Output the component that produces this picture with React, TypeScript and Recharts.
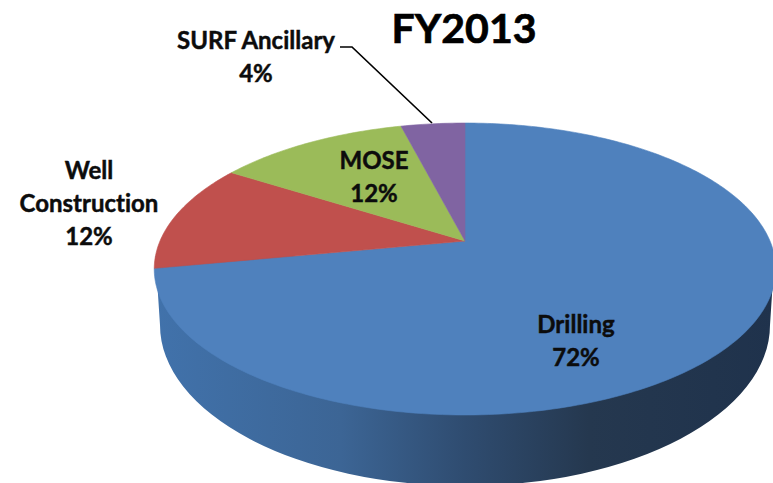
import React from "react";
import { PieChart, Pie, Cell } from "recharts";

const categories = ["Drilling", "Well Construction", "MOSE", "SURF Ancillary"];
const shares = [72, 12, 12, 4];
const colors = ["#4f81bd", "#c0504d", "#9bbb59", "#8064a2"];
const title = "FY2013";

const rows = categories.map((name, i) => ({ name, value: shares[i] }));

// Perspective of the tilted disc
const TILT = -0.1918;
const SQUASH = 0.461;
const WIDTH = 773;
const HEIGHT = 483;

const RAD = Math.PI / 180;
function project(cx: number, cy: number, R: number, deg: number) {
  const u = Math.cos(deg * RAD);
  const v = -Math.sin(deg * RAD);
  const d = 1 + TILT * v;
  return [cx + (R * u) / d, cy + (R * SQUASH * v) / d];
}

function Slice3D(props: any) {
  const { cx, cy, outerRadius: R, startAngle, endAngle, fill, index } = props;
  const steps = Math.max(2, Math.ceil(Math.abs(endAngle - startAngle)));
  const pts: string[] = [];
  for (let i = 0; i <= steps; i++) {
    const a = startAngle + ((endAngle - startAngle) * i) / steps;
    const [x, y] = project(cx, cy, R, a);
    pts.push(`${x.toFixed(2)},${y.toFixed(2)}`);
  }
  const top = `M${cx},${cy}L${pts.join("L")}Z`;
  let wall = null;
  if (props.name === categories[0]) {
    // side wall: visible lower half of the disc rim, lowered and slightly narrowed
    const [lx, ly] = project(cx, cy, R, 180 + 6);
    const [rx, ry] = project(cx, cy, R, 0 - 6);
    const bx = R * 1.0;
    const by = R * 0.528;
    const bcy = cy + R * 0.275;
    wall = (
      <path
        d={`M${lx},${ly}L${cx - bx},${bcy}A${bx},${by} 0 0 0 ${cx + bx},${bcy}L${rx},${ry}Z`}
        fill="url(#wallShade)"
      />
    );
  }
  return (
    <g data-index={index}>
      {wall}
      <path d={top} fill={fill} stroke={fill} strokeWidth={0.6} />
    </g>
  );
}

const labelStyle: any = {
  fontFamily: "Lato, 'Open Sans', sans-serif",
  fontWeight: 700,
  fontSize: 24,
  fill: "#0c0c0c",
  stroke: "#0c0c0c",
  strokeWidth: 0.45,
  fontVariantLigatures: "none",
};

const labelLayout: Record<string, { x: number; lines: [string, number][] }> = {
  Drilling: { x: 576, lines: [["Drilling", 333], ["72%", 366]] },
  "Well Construction": { x: 89, lines: [["Well", 179], ["Construction", 212], ["12%", 245]] },
  MOSE: { x: 374, lines: [["MOSE", 169], ["12%", 202]] },
  "SURF Ancillary": { x: 256, lines: [["SURF Ancillary", 49], ["4%", 82]] },
};

function renderLabel(props: any) {
  const layout = labelLayout[props.name];
  if (!layout) return null;
  return (
    <g>
      {layout.lines.map(([t, y]) => (
        <text key={t} x={layout.x} y={y} textAnchor="middle" style={labelStyle}>
          {t}
        </text>
      ))}
      {props.name === "SURF Ancillary" && (
        <polyline points="340,47 352,47 432,123" fill="none" stroke="#000" strokeWidth={1.7} />
      )}
    </g>
  );
}

export default function App() {
  return (
    <div style={{ position: "absolute", left: 0, top: 0, width: WIDTH, height: HEIGHT, overflow: "hidden", background: "#fff" }}>
      <PieChart width={WIDTH} height={HEIGHT} margin={{ top: 0, right: 0, bottom: 0, left: 0 }}>
        <defs>
          <linearGradient id="wallShade" gradientUnits="userSpaceOnUse" x1={155} y1={0} x2={775} y2={0}>
            <stop offset="0" stopColor="#4172ab" />
            <stop offset="0.3" stopColor="#3c6595" />
            <stop offset="0.5" stopColor="#2f4c70" />
            <stop offset="0.7" stopColor="#25384f" />
            <stop offset="1" stopColor="#1f324c" />
          </linearGradient>
        </defs>
        <Pie
          data={rows}
          dataKey="value"
          nameKey="name"
          cx={465}
          cy={241}
          innerRadius={0}
          outerRadius={305}
          startAngle={90}
          endAngle={-270}
          stroke="none"
          isAnimationActive={false}
          shape={Slice3D}
          label={renderLabel}
          labelLine={false}
        >
          {rows.map((r, i) => (
            <Cell key={r.name} fill={colors[i]} />
          ))}
        </Pie>
        <text
          x={464}
          y={43}
          textAnchor="middle"
          style={{ fontFamily: "Lato, 'Open Sans', sans-serif", fontWeight: 700, fontSize: 41, fill: "#000", stroke: "#000", strokeWidth: 0.7 }}
        >
          {title}
        </text>
      </PieChart>
    </div>
  );
}
